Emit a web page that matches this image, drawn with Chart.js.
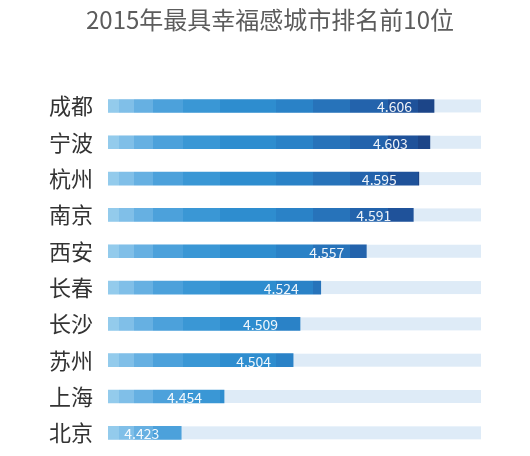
<!DOCTYPE html>
<html>
<head>
<meta charset="utf-8">
<script src="https://cdn.jsdelivr.net/npm/chart.js@4"></script>
<style>
html,body{margin:0;padding:0;background:#fff;}
#wrap{width:530px;height:456px;}
</style>
</head>
<body>
<div id="wrap"><canvas id="c" width="530" height="456"></canvas></div>
<script>
const titleText = '2015年最具幸福感城市排名前10位';
const cities = ['成都','宁波','杭州','南京','西安','长春','长沙','苏州','上海','北京'];
const scores = [4.606, 4.603, 4.595, 4.591, 4.557, 4.524, 4.509, 4.504, 4.454, 4.423];
const axisMin = 4.37;
const axisMax = 4.64;

const stops = [
  [0.00,'#93cbec'],[0.03,'#80bfe8'],[0.07,'#66b0e2'],[0.12,'#4ca1db'],
  [0.20,'#3a97d5'],[0.30,'#2e8dcf'],[0.45,'#2a82c7'],[0.55,'#2773ba'],
  [0.65,'#2363ac'],[0.75,'#1f529a'],[0.83,'#1c4588'],[0.90,'#1a3a78']
];

function barFill(context){
  const chart = context.chart;
  const area = chart.chartArea;
  if(!area) return '#2e8dcf';
  const g = chart.ctx.createLinearGradient(area.left,0,area.right,0);
  for(let i=0;i<stops.length;i++){
    const s = stops[i][0];
    const e = i+1<stops.length ? stops[i+1][0] : 1;
    g.addColorStop(s, stops[i][1]);
    g.addColorStop(Math.max(s, e-0.0001), stops[i][1]);
  }
  return g;
}

const trackPlugin = {
  id:'track',
  afterLayout(chart){
    if(chart.titleBlock){
      chart.titleBlock.left = 0;
      chart.titleBlock.right = 540;
    }
  },
  beforeDatasetsDraw(chart){
    const {ctx, chartArea} = chart;
    const meta = chart.getDatasetMeta(0);
    ctx.save();
    ctx.fillStyle = '#deebf7';
    meta.data.forEach(bar=>{
      const h = bar.height;
      ctx.fillRect(chartArea.left, bar.y - h/2, chartArea.right - chartArea.left, h);
    });
    ctx.restore();
  }
};

const valuePlugin = {
  id:'values',
  afterDatasetsDraw(chart){
    const {ctx} = chart;
    const meta = chart.getDatasetMeta(0);
    ctx.save();
    ctx.font = '14px "Noto Sans CJK SC", "Noto Sans", sans-serif';
    ctx.fillStyle = 'rgba(255,255,255,0.92)';
    ctx.textAlign = 'right';
    ctx.textBaseline = 'middle';
    meta.data.forEach((bar,i)=>{
      ctx.fillText(scores[i].toFixed(3), bar.x - 22, bar.y + 1);
    });
    ctx.restore();
  }
};

new Chart(document.getElementById('c'), {
  type:'bar',
  data:{
    labels: cities,
    datasets:[{
      data: scores,
      backgroundColor: barFill,
      borderWidth:0,
      barThickness:13,
      base: axisMin
    }]
  },
  options:{
    indexAxis:'y',
    responsive:false,
    animation:false,
    devicePixelRatio:1,
    layout:{padding:{left:34,right:49,top:0,bottom:5}},
    plugins:{
      legend:{display:false},
      tooltip:{enabled:false},
      title:{
        display:true,
        text:titleText,
        color:'#5c5c5c',
        font:{size:24,weight:'normal',family:'"Noto Sans CJK SC", sans-serif'},
        padding:{top:5,bottom:54}
      }
    },
    scales:{
      x:{
        display:false,
        min:axisMin,
        max:axisMax
      },
      y:{
        grid:{display:false, drawTicks:false},
        border:{display:false},
        afterFit(scale){ scale.paddingTop = 0; scale.paddingBottom = 0; },
        ticks:{
          color:'#333',
          padding:15,
          font:{size:22,family:'"Noto Sans CJK SC", sans-serif'}
        }
      }
    }
  },
  plugins:[trackPlugin, valuePlugin]
});
</script>
</body>
</html>
